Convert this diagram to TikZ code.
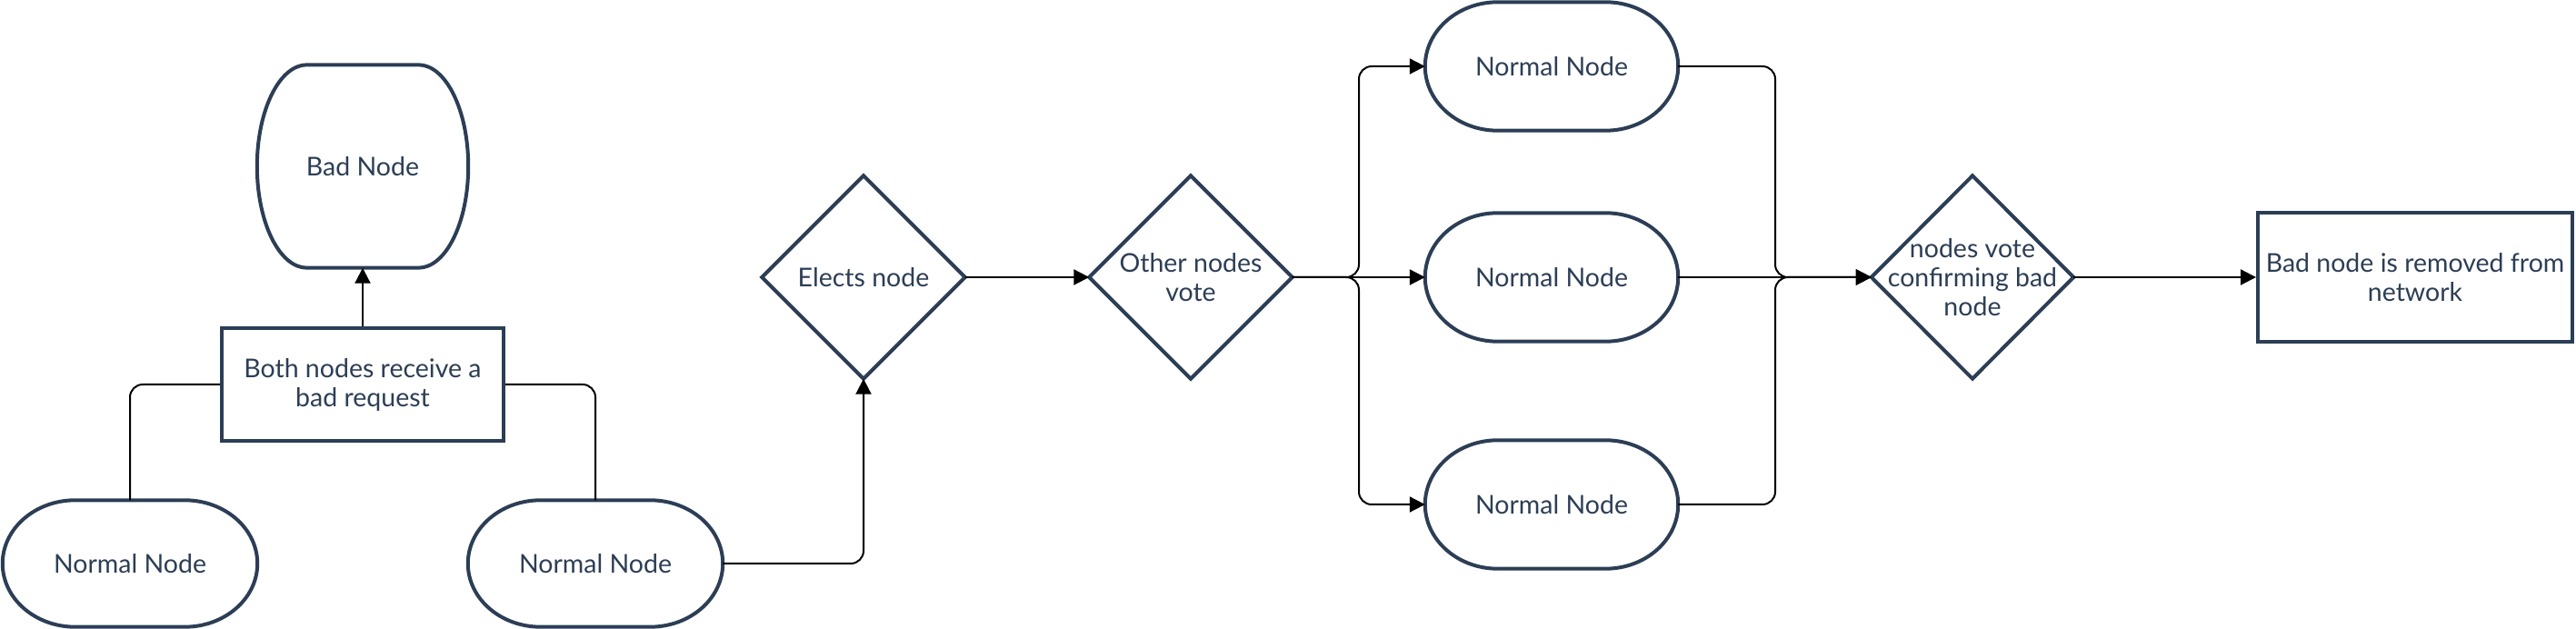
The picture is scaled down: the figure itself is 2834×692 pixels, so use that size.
\documentclass[tikz,border=0pt]{standalone}
\usepackage{fontspec}
\setmainfont{Lato}
\usetikzlibrary{arrows.meta,calc}
\definecolor{navy}{HTML}{2C3E55}
\newcommand\pillpath[2]{%
  \draw[border] let \p1=(#1.north west), \p2=(#1.south east), \n1={(\y1-\y2)/2} in
    ({\x1+#2pt},\y1) -- ({\x2-#2pt},\y1)
    arc[start angle=90,end angle=-90,x radius=#2pt,y radius=\n1]
    -- ({\x1+#2pt},\y2)
    arc[start angle=270,end angle=90,x radius=#2pt,y radius=\n1] -- cycle;}
\newcommand\diampath[1]{%
  \draw[border] (#1.north) -- (#1.east) -- (#1.south) -- (#1.west) -- cycle;}
\begin{document}
\begin{tikzpicture}[x=1pt,y=1pt,
  border/.style={draw=navy,line width=4pt},
  conn/.style={line width=2pt,rounded corners=14pt},
  arr/.style={conn,-{Triangle[length=17pt,width=17pt]}},
  lbl/.style={inner sep=0pt,text=navy,font=\fontsize{28.5}{32}\selectfont,align=center}]
\useasboundingbox (0,0) rectangle (2834,692);
% left part
\node[lbl,minimum width=232pt,minimum height=223pt] (bad) at (399,509) {Bad Node};
\pillpath{bad}{55}
\node[lbl,border,minimum width=310pt,minimum height=124pt] (req) at (399,269) {Both nodes receive a\\bad request};
\node[lbl,minimum width=280pt,minimum height=139pt] (nn1) at (143,72) {Normal Node};
\pillpath{nn1}{80}
\node[lbl,minimum width=280pt,minimum height=139pt] (nn2) at (655,72) {Normal Node};
\pillpath{nn2}{80}
% diamonds
\node[lbl,minimum width=223pt,minimum height=223pt] (elect) at (950,387) {Elects node};
\diampath{elect}
\node[lbl,minimum width=223pt,minimum height=223pt] (vote) at (1310,387) {Other nodes\\vote};
\diampath{vote}
% column of normal nodes
\node[lbl,minimum width=278pt,minimum height=141pt] (n3) at (1707,619) {Normal Node};
\pillpath{n3}{80}
\node[lbl,minimum width=278pt,minimum height=141pt] (n4) at (1707,387) {Normal Node};
\pillpath{n4}{80}
\node[lbl,minimum width=278pt,minimum height=141pt] (n5) at (1707,137) {Normal Node};
\pillpath{n5}{80}
\node[lbl,minimum width=222pt,minimum height=223pt] (conf) at (2170,387) {nodes vote\\confirming bad\\node};
\diampath{conf}
\node[lbl,border,minimum width=346pt,minimum height=142pt] (rem) at (2657,387) {Bad node is removed from\\network};
% junction coordinates
\coordinate (j1) at (1495,387);
\coordinate (j2) at (1953,387);
% connectors
\draw[arr] (req.north) -- (bad.south);
\draw[conn] (req.west) -| (nn1.north);
\draw[conn] (req.east) -| (nn2.north);
\draw[arr] (nn2.east) -| (elect.south);
\draw[arr] (elect.east) -- (vote.west);
\draw[arr] (vote.east) -- (j1) |- (n3.west);
\draw[arr] (vote.east) -- (n4.west);
\draw[arr] (vote.east) -- (j1) |- (n5.west);
\draw[arr] (n3.east) -| (j2) -- (conf.west);
\draw[arr] (n4.east) -- (conf.west);
\draw[arr] (n5.east) -| (j2) -- (conf.west);
\draw[arr] (conf.east) -- (rem.west);
\end{tikzpicture}
\end{document}
